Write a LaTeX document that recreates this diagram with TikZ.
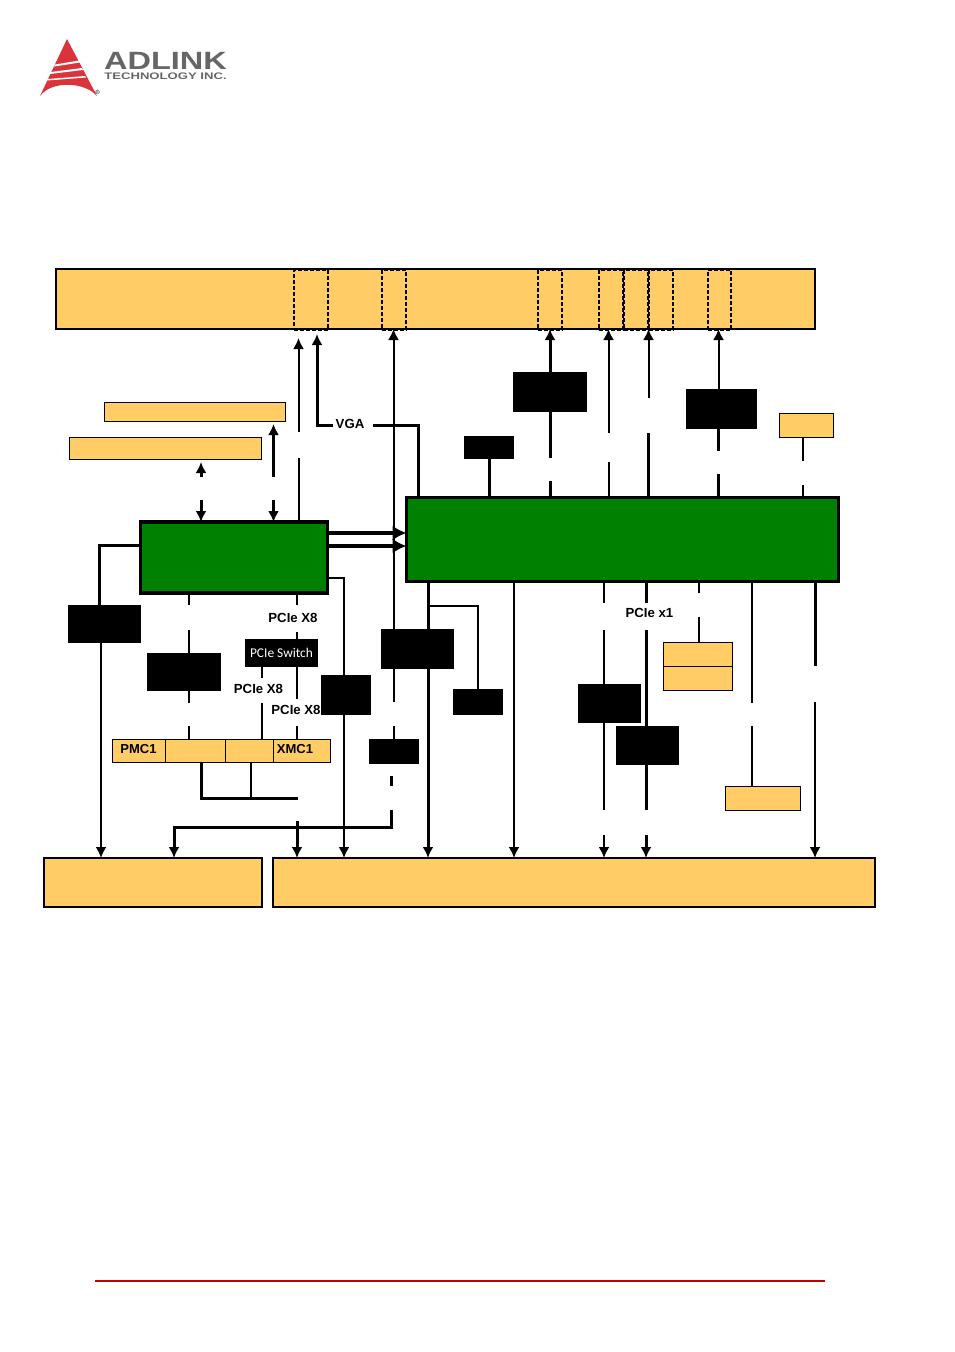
\documentclass[tikz,border=0pt]{standalone}
\usepackage{fontspec}
\setmainfont{Liberation Sans}
\newfontfamily\switchfont{Carlito}
\usetikzlibrary{arrows.meta}
\definecolor{slotyellow}{HTML}{FFCC66}
\definecolor{chipgreen}{HTML}{008000}
\definecolor{logored}{HTML}{DB333B}
\definecolor{logogrey}{HTML}{666666}
\definecolor{rulered}{HTML}{C00000}
\tikzset{
  yelbox/.style={draw, fill=slotyellow, line width=1pt, inner sep=0pt, outer sep=0pt},
  busbox/.style={yelbox, line width=2.4pt},
  greenbox/.style={draw, fill=chipgreen, line width=3.8pt, inner sep=0pt, outer sep=0pt},
  blackbox/.style={fill=black, inner sep=0pt, outer sep=0pt},
  dashbox/.style={draw, dash pattern=on 4pt off 2pt, line width=1.4pt, inner sep=0pt, outer sep=0pt},
  lab/.style={font=\bfseries\fontsize{13.2}{15}\selectfont, inner sep=0pt},
  wire/.style={line width=2pt},
  thickwire/.style={line width=3pt},
  tipped/.style={-{Latex[length=11pt,width=11pt]}},
  bigtip/.style={line width=3.5pt, -{Latex[length=14pt,width=15pt]}}
}
\begin{document}
\begin{tikzpicture}[x=1pt,y=-1pt]
\useasboundingbox (0,0) rectangle (954,1352);
% logo
\fill[logored] (67,39) -- (97,96) .. controls (85,82) and (52,80) .. (40,96) -- cycle;
\fill[white] (55,64.5) -- (79,60.5) -- (80,62.5) -- (54,66.5) -- cycle;
\fill[white] (51,72) -- (82,68) -- (83,70) -- (50,74) -- cycle;
\fill[white] (48,79) -- (85,76) -- (86,77.5) -- (47,80.5) -- cycle;
\node[logogrey, inner sep=0pt, font=\bfseries\fontsize{25}{25}\selectfont, xscale=1.3, transform shape] (brand) at (165.5,61) {ADLINK};
\node[logogrey, inner sep=0pt, font=\bfseries\fontsize{9.5}{10}\selectfont, xscale=1.38, transform shape] (brandsub) at (165.5,76.5) {TECHNOLOGY INC.};
\node[inner sep=0pt, font=\fontsize{6}{6}\selectfont] (regmark) at (97.5,92) {®};
% buses and headers
\node[busbox, line width=1.7pt, minimum width=759pt, minimum height=60pt] (rearbus) at (435.5,299) {};
\node[yelbox, minimum width=181pt, minimum height=19pt] (hdrA) at (194.5,411.5) {};
\node[yelbox, minimum width=192pt, minimum height=22pt] (hdrB) at (165,448) {};
\node[busbox, minimum width=218pt, minimum height=49pt] (busL) at (153,882.5) {};
\node[busbox, minimum width=602pt, minimum height=49pt] (busR) at (574,882.5) {};
\foreach \name/\cx/\w in {portA/311/34, portB/394/24, portC/550/24, portD/611/24, portE/636/24, portF/661/24, portG/719.5/23}
  \node[dashbox, minimum width=\w pt, minimum height=60pt] (\name) at (\cx,300) {};
% chips
\node[greenbox, minimum width=187pt, minimum height=71pt] (cpu) at (234,557.5) {};
\node[greenbox, minimum width=432pt, minimum height=84pt] (pch) at (622.5,539.5) {};
\foreach \name/\cx/\cy/\w/\h in {chipA/104.5/624/73/38, chipB/184/672/74/38, chipC/346/695/50/40, chipD/417.5/649/73/40, chipE/394/751.5/50/25, chipF/478/702/50/26, chipG/550/392/74/40, chipH/489/447.5/50/23, chipI/721.5/409/71/40, chipJ/609.5/703.5/63/39, chipK/647.5/745.5/63/39}
  \node[blackbox, minimum width=\w pt, minimum height=\h pt] (\name) at (\cx,\cy) {};
\node[blackbox, minimum width=73pt, minimum height=28pt, text=white, font=\switchfont\fontsize{13.4}{15}\selectfont] (pcisw) at (281.5,653) {PCIe Switch};
\node[yelbox, minimum width=54pt, minimum height=24pt] (hdrC) at (806,425) {};
\node[yelbox, minimum width=69pt, minimum height=24pt] (miniA) at (697.5,654) {};
\node[yelbox, minimum width=69pt, minimum height=24pt] (miniB) at (697.5,678) {};
\node[yelbox, minimum width=75pt, minimum height=24pt] (hdrD) at (762.5,798) {};
% slots
\node[yelbox, minimum width=53pt, minimum height=23pt, font=\bfseries\fontsize{13}{15}\selectfont] (pmcA) at (138.5,750.5) {\raisebox{3pt}{PMC1}};
\node[yelbox, minimum width=60pt, minimum height=23pt] (pmcB) at (195,750.5) {};
\node[yelbox, minimum width=48pt, minimum height=23pt] (xmcA) at (249,750.5) {};
\node[yelbox, minimum width=57pt, minimum height=23pt, font=\bfseries\fontsize{13}{15}\selectfont] (xmcB) at (301.5,750.5) {\raisebox{3pt}{XMC1\hspace{13pt}}};
% free ends of the broken lines
\foreach \name/\x/\y in {tipU/298.5/338, tipV/317/334, upA/298.5/432, dnA/298.5/458,
  vgaL/333/425, vgaR/373/425, tipS/273.5/424, upS/273.5/477, dnS/273.5/500,
  tipT/201/462, upT/201/477, dnT/201/500,
  upD/393.5/702, dnD/393.5/726, upB/189/605, dnB/189/630, upC/189/703, dnC/189/726,
  upW/297/605, dnW/297/632, upX/297/699, dnX/297/726, upY/262/678, dnY/262/703,
  joinL/201/798, joinM/251/798, joinR/298/798, downP/297/821,
  dashU/391.5/776, dashV/391.5/786, downQ/391.5/810, turnQ/391.5/827, turnR/174/827,
  forkA/428/606, forkB/478/606, upG/550/458, dnG/550/481,
  upH/608.5/433, dnH/608.5/462, upI/648.5/398, dnI/648.5/433,
  upJ/718.5/451, dnJ/718.5/474, upK/803/461, dnK/803/485,
  upL/604/603, dnL/604/630, upM/604/810, dnM/604/835,
  upN/646/603, dnN/646/630, upO/646/810, dnO/646/835,
  upP/699/593, dnP/699/617, upQ/752/703, dnQ/752/726, upR/815/666, dnR/815/702}
  \coordinate (\name) at (\x,\y);
% to the rear bus
\draw[wire, tipped] (upA) -- (tipU);
\draw[wire] (dnA) -- (dnA |- cpu.north);
\draw[thickwire, tipped] (vgaL) -| (tipV);
\draw[thickwire] (vgaR) -| (418,0 |- pch.north);
\node[lab] (vgalab) at (350,424) {VGA};
\draw[wire, tipped] (upD |- chipD.north) -- (upD |- rearbus.south);
\draw[wire] (upD |- chipD.south) -- (upD);
\draw[wire] (dnD) -- (dnD |- chipE.north);
\draw[thickwire, tipped] (dnS) -- (dnS |- cpu.north);
\draw[thickwire, tipped] (upS) -- (tipS);
\draw[thickwire, tipped] (dnT) -- (dnT |- cpu.north);
\draw[thickwire, tipped] (upT) -- (tipT);
\draw[thickwire, tipped] (upG |- chipG.north) -- (upG |- rearbus.south);
\draw[thickwire] (upG |- chipG.south) -- (upG);
\draw[thickwire] (dnG) -- (dnG |- pch.north);
\draw[wire, tipped] (upH) -- (upH |- rearbus.south);
\draw[wire] (dnH) -- (dnH |- pch.north);
\draw[wire, tipped] (upI) -- (upI |- rearbus.south);
\draw[thickwire] (dnI) -- (dnI |- pch.north);
\draw[wire, tipped] (upJ |- chipI.north) -- (upJ |- rearbus.south);
\draw[thickwire] (upJ |- chipI.south) -- (upJ);
\draw[thickwire] (dnJ) -- (dnJ |- pch.north);
\draw[wire] (upK |- hdrC.south) -- (upK);
\draw[wire] (dnK) -- (dnK |- pch.north);
\draw[thickwire] (489.5,0 |- chipH.south) -- (489.5,0 |- pch.north);
% cpu to pch
\draw[bigtip] (cpu.east |- 0,533) -- (pch.west |- 0,533);
\draw[bigtip] (cpu.east |- 0,546) -- (pch.west |- 0,546);
% down from cpu
\draw[thickwire] (cpu.west |- 0,545) -| (99.5,0 |- chipA.north);
\draw[wire, tipped] (101,0 |- chipA.south) -- (101,0 |- busL.north);
\draw[wire] (upB |- cpu.south) -- (upB);
\draw[wire] (dnB) -- (dnB |- chipB.north);
\draw[wire] (upC |- chipB.south) -- (upC);
\draw[wire] (dnC) -- (dnC |- pmcB.north);
\draw[wire] (upW |- cpu.south) -- (upW);
\draw[wire] (dnW) -- (dnW |- pcisw.north);
\draw[wire] (upX |- pcisw.south) -- (upX);
\draw[wire] (dnX) -- (dnX |- xmcB.north);
\draw[wire] (upY |- pcisw.south) -- (upY);
\draw[wire] (dnY) -- (dnY |- xmcA.north);
\node[lab] (labA) at (293,617.5) {PCIe X8};
\node[lab] (labB) at (258.5,688.5) {PCIe X8};
\node[lab] (labC) at (296,710) {PCIe X8};
\draw[wire] (cpu.east |- 0,578) -| (344,0 |- chipC.north);
\draw[wire, tipped] (344,0 |- chipC.south) -- (344,0 |- busR.north);
% slots to bus
\draw[thickwire] (joinL |- pmcB.south) -- (joinL) -- (joinR);
\draw[wire] (joinM |- pmcB.south) -- (joinM);
\draw[thickwire, tipped] (downP) -- (downP |- busR.north);
\draw[thickwire] (dashU) -- (dashV);
\draw[thickwire, tipped] (downQ) -- (turnQ) -- (turnR) -- (turnR |- busL.north);
% down from pch
\draw[thickwire, tipped] (428,0 |- pch.south) -- (428,0 |- busR.north);
\draw[wire] (forkA) -- (forkB) -- (forkB |- chipF.north);
\draw[wire, tipped] (514,0 |- pch.south) -- (514,0 |- busR.north);
\draw[wire] (upL |- pch.south) -- (upL);
\draw[wire] (dnL) -- (upM);
\draw[wire, tipped] (dnM) -- (dnM |- busR.north);
\draw[thickwire] (upN |- pch.south) -- (upN);
\draw[thickwire] (dnN) -- (upO);
\draw[thickwire, tipped] (dnO) -- (dnO |- busR.north);
\node[lab] (labD) at (649.5,613) {PCIe x1};
\draw[wire] (upP |- pch.south) -- (upP);
\draw[wire] (dnP) -- (dnP |- miniA.north);
\draw[wire] (upQ |- pch.south) -- (upQ);
\draw[wire] (dnQ) -- (dnQ |- hdrD.north);
\draw[thickwire] (upR |- pch.south) -- (upR);
\draw[wire, tipped] (dnR) -- (dnR |- busR.north);
% footer rule
\draw[rulered, line width=1.5pt] (95,1281) -- (825,1281);
\end{tikzpicture}
\end{document}
